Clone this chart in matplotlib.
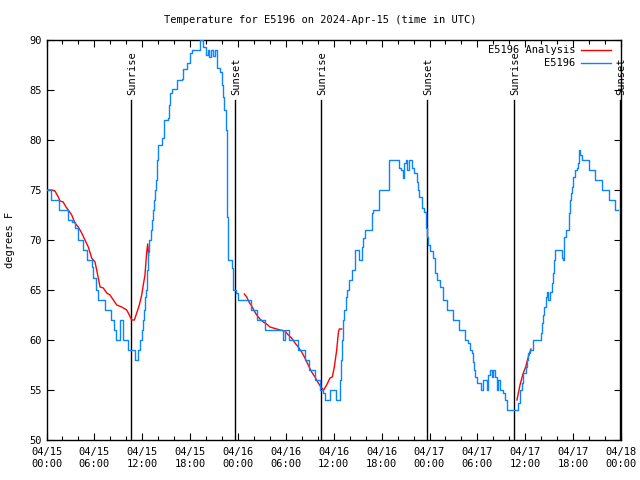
import numpy as np
import matplotlib
matplotlib.use("Agg")
import matplotlib.pyplot as plt
from matplotlib.ticker import MultipleLocator, FixedLocator

# hours since 2024-04-15 00:00 UTC
obs_hours = [0.03, 0.56, 1.6, 2.73, 3.16, 3.57, 3.95, 4.61, 5.04, 5.66, 5.86, 6.2, 6.49, 7.33, 8.05,
             8.4, 8.71, 9.21, 9.62, 10.25, 10.68, 11.09, 11.5, 11.7, 11.93, 12.05, 12.2, 12.34,
             12.45, 12.55, 12.62, 12.7, 12.76, 12.9, 13.05, 13.2, 13.38, 13.5, 13.6, 13.7, 13.81,
             13.9, 14.01, 14.44, 14.72, 15.26, 15.4, 15.48, 15.69, 16.32, 16.94, 17.14, 17.57,
             17.98, 18.2,
             18.9, 19.24, 19.61, 19.99, 20.18, 20.36, 20.61, 20.86, 21.12, 21.4, 21.74, 21.95,
             22.16, 22.3,
             22.49, 22.58, 22.71, 23.12, 23.21, 23.41, 23.75, 24.04, 25.5, 25.59, 26.13, 26.42,
             27.17, 27.38, 29.26, 29.67, 29.89, 30.14, 30.39, 31.35, 31.55, 32.2, 32.39, 32.89,
             33.43, 33.65, 34.27, 34.69, 34.9, 35.31, 35.53, 36.07, 36.24, 36.57, 36.78, 36.85,
             36.92, 36.99, 37.05, 37.12,
             37.19, 37.3, 37.49, 37.6, 37.91, 38.25, 38.57, 38.7, 38.95, 39.2, 39.5, 39.7, 39.91,
             40.66, 40.83, 40.95, 41.45, 41.67, 42.76, 42.88, 42.96, 43.96, 44.21, 44.49, 44.71,
             44.84, 45.05, 45.21, 45.46, 45.76, 46.09, 46.39, 46.55, 46.72, 47.02, 47.31, 47.56,
             47.7, 47.84, 48.06,
             48.4, 48.68, 48.97, 49.31, 49.65, 50.15, 50.78, 50.9, 51.48, 51.73, 52.23, 52.44,
             52.86, 53.07, 53.28, 53.48, 53.6, 53.7, 53.98, 54.32, 54.45, 54.66, 54.95, 55.16,
             55.36, 55.58, 55.79, 55.99, 56.2, 56.42, 56.62, 56.83, 57.24, 57.46, 57.74, 58.92,
             59.12, 59.34, 59.55, 59.75, 60.09, 60.25, 60.38, 60.59, 61.0, 61.72, 61.93, 62.13,
             62.25, 62.38, 62.56, 62.72, 62.88, 63.1, 63.31, 63.51, 63.6, 63.72, 64.47, 64.64,
             64.72, 64.89, 65.1, 65.31, 65.48, 65.55, 65.62, 65.69, 65.81, 66.02, 66.23, 66.44,
             66.57, 66.73, 66.86, 67.07, 67.82, 67.98, 68.52, 68.73, 69.36, 69.57, 70.2, 70.49,
             71.03, 71.24, 71.62]
obs_temps = [75, 74, 73, 72, 71.8, 71.2, 70, 69, 68, 67.3, 66.2, 65, 64, 63, 62,
             61, 60, 62, 60, 59, 59, 58, 59, 60, 61, 62, 63, 64.3,
             65, 66, 67, 68, 68.8, 70, 71, 72, 73, 74, 75, 76, 77,
             78, 79.5, 80.2, 82, 82.2, 83.5, 84.7, 85.1, 86, 86.1, 87.1, 87.7,
             88.7, 89,
             89, 90, 89.3, 88.5, 89, 88.3, 89, 88.4, 89, 87.2, 86.8, 85.5,
             84.3, 83,
             81, 72.3, 68, 68, 67.2, 65, 64.7, 64, 64, 63, 63, 62,
             62, 61, 61, 60, 61, 61, 60, 60, 59, 59, 58, 57,
             57, 56, 55, 54.7, 54, 54, 55, 55, 54, 54, 56, 57,
             58, 59.3, 60, 61,
             62, 63, 64.3, 65, 66, 67, 67, 69, 69, 68, 69.3, 70.2, 71,
             71, 72.7, 73, 73, 75, 75, 77, 78, 78, 77.2, 77, 76.2,
             77.7, 78, 77, 78, 77.2, 76.7, 75.8, 75, 74.3, 73.2, 72.8, 71.2,
             70.3, 69.5, 68.9,
             68.2, 66.7, 66, 65.3, 64, 63, 63, 62, 62, 61, 61, 60,
             59.7, 59, 58.7, 57.8, 57, 56.3, 55.7, 55.7, 55, 56, 56, 55,
             56.5, 57, 56.3, 57, 56.3, 55, 56, 55, 54.7, 54, 53, 53,
             53.7, 55, 55.7, 56.7, 57.3, 58, 58.7, 59, 60, 60, 60.7, 61.7,
             62.5, 63.3, 64.3, 64.8, 64, 64.8, 65.7, 66.7, 68, 69, 69, 68.2,
             68, 70.3, 71, 71, 72.7, 73.5, 74, 74.7, 75.3, 76.3, 77, 77.2,
             77.7, 79, 78.5, 78, 78, 77, 77, 76, 76, 75, 75, 74,
             74, 73, 73]

ana1_hours = [0.0, 0.65, 1.06, 1.48, 1.69, 2.09, 2.44, 2.73, 3.16, 3.57, 3.98, 4.41, 4.82, 5.24,
              5.66, 6.08, 6.29, 6.71, 7.12, 7.55, 7.96, 8.38, 8.81, 9.43, 10.05, 10.38, 10.68,
              11.01, 11.31, 11.63, 11.93, 12.13, 12.34, 12.55, 12.68, 12.8]
ana1_temps = [75.0, 75.0, 74.9, 74.3, 73.9, 73.8, 73.3, 73.0, 72.5, 71.7, 71.3, 70.7, 70.0, 69.3,
              68.2, 67.8, 67.0, 65.3, 65.2, 64.7, 64.5, 64.0, 63.5, 63.3, 63.0, 62.5, 62.0,
              62.0, 62.7, 63.5, 64.5, 65.5, 66.5, 68.7, 69.6, 68.5]
ana2_hours = [24.79, 25.09, 25.38, 25.71, 26.04, 26.34, 26.75, 27.17, 27.59, 28.01, 28.42, 28.85,
              29.26, 29.89, 30.3, 30.72, 31.14, 31.55, 31.98, 32.39, 32.8, 33.23, 33.65, 34.06,
              34.49, 34.74, 35.11, 35.53, 35.82, 36.07, 36.37, 36.57, 36.69, 36.99]
ana2_temps = [64.6, 64.3, 63.8, 63.4, 62.9, 62.5, 62.1, 61.8, 61.6, 61.3, 61.2, 61.1,
              61.0, 60.9, 60.5, 60.2, 59.7, 59.3, 58.8, 58.2, 57.5, 56.8, 56.3, 55.7,
              55.2, 55.0, 55.5, 56.2, 56.3, 57.3, 59.0, 60.7, 61.1, 61.1]
ana3_hours = [58.96, 59.34, 59.75, 60.05, 60.38, 60.71]
ana3_temps = [54.0, 55.5, 56.7, 57.3, 58.3, 59.1]

sun_hours = [10.59, 23.62, 34.4, 47.7, 58.6, 71.9]
sun_labels = ["Sunrise", "Sunset", "Sunrise", "Sunset", "Sunrise", "Sunset"]

xtick_hours = [0, 6, 12, 18, 24, 30, 36, 42, 48, 54, 60, 66, 72]
xtick_labels = ["04/15\n00:00", "04/15\n06:00", "04/15\n12:00", "04/15\n18:00",
                "04/16\n00:00", "04/16\n06:00", "04/16\n12:00", "04/16\n18:00",
                "04/17\n00:00", "04/17\n06:00", "04/17\n12:00", "04/17\n18:00",
                "04/18\n00:00"]

plt.rcParams['font.family'] = ['DejaVu Sans Mono']
plt.rcParams['font.size'] = 7

fig = plt.figure(figsize=(6.4, 4.8), dpi=100)
ax = fig.add_axes([46.5 / 640, 40 / 480, (621 - 46.5) / 640, 400 / 480])

ana_h = ana1_hours + [np.nan] + ana2_hours + [np.nan] + ana3_hours
ana_t = ana1_temps + [np.nan] + ana2_temps + [np.nan] + ana3_temps
ax.plot(ana_h, ana_t, color='#ff0000', lw=1.0, label='E5196 Analysis', zorder=3)
ax.plot(obs_hours, obs_temps, color='#0a84ff', lw=1.0, label='E5196', zorder=4,
        drawstyle='steps-post')

for h, lab in zip(sun_hours, sun_labels):
    ax.plot([h, h], [50, 84], color='black', lw=1.0, zorder=2)
    ax.text(h + 0.15, 84.5, lab, rotation=90, ha='center', va='bottom', fontsize=7.5)

ax.set_xlim(0, 72)
ax.set_ylim(50, 90)
ax.xaxis.set_major_locator(FixedLocator(xtick_hours))
ax.set_xticklabels(xtick_labels)
ax.xaxis.set_minor_locator(MultipleLocator(2))
ax.yaxis.set_major_locator(MultipleLocator(5))
ax.tick_params(axis='both', which='both', direction='in', top=True, right=True,
               width=0.8, labelsize=7.5)
ax.tick_params(axis='both', which='major', length=5)
ax.tick_params(axis='both', which='minor', length=3)
ax.tick_params(axis='x', pad=5)
for s in ax.spines.values():
    s.set_linewidth(1.0)

ax.set_ylabel('degrees F', fontsize=7.5, labelpad=10)
fig.text(0.5, 1 - 20 / 480, 'Temperature for E5196 on 2024-Apr-15 (time in UTC)',
         ha='center', va='center', fontsize=7.5)

leg = ax.legend(loc='upper right', bbox_to_anchor=(0.991, 1.0), frameon=False,
                markerfirst=False, handlelength=2.8, fontsize=7.5, borderaxespad=0.1,
                labelspacing=0.3, handletextpad=0.6)
for t in leg.get_texts():
    t.set_ha('right')

fig.savefig('out.png', dpi=100)
